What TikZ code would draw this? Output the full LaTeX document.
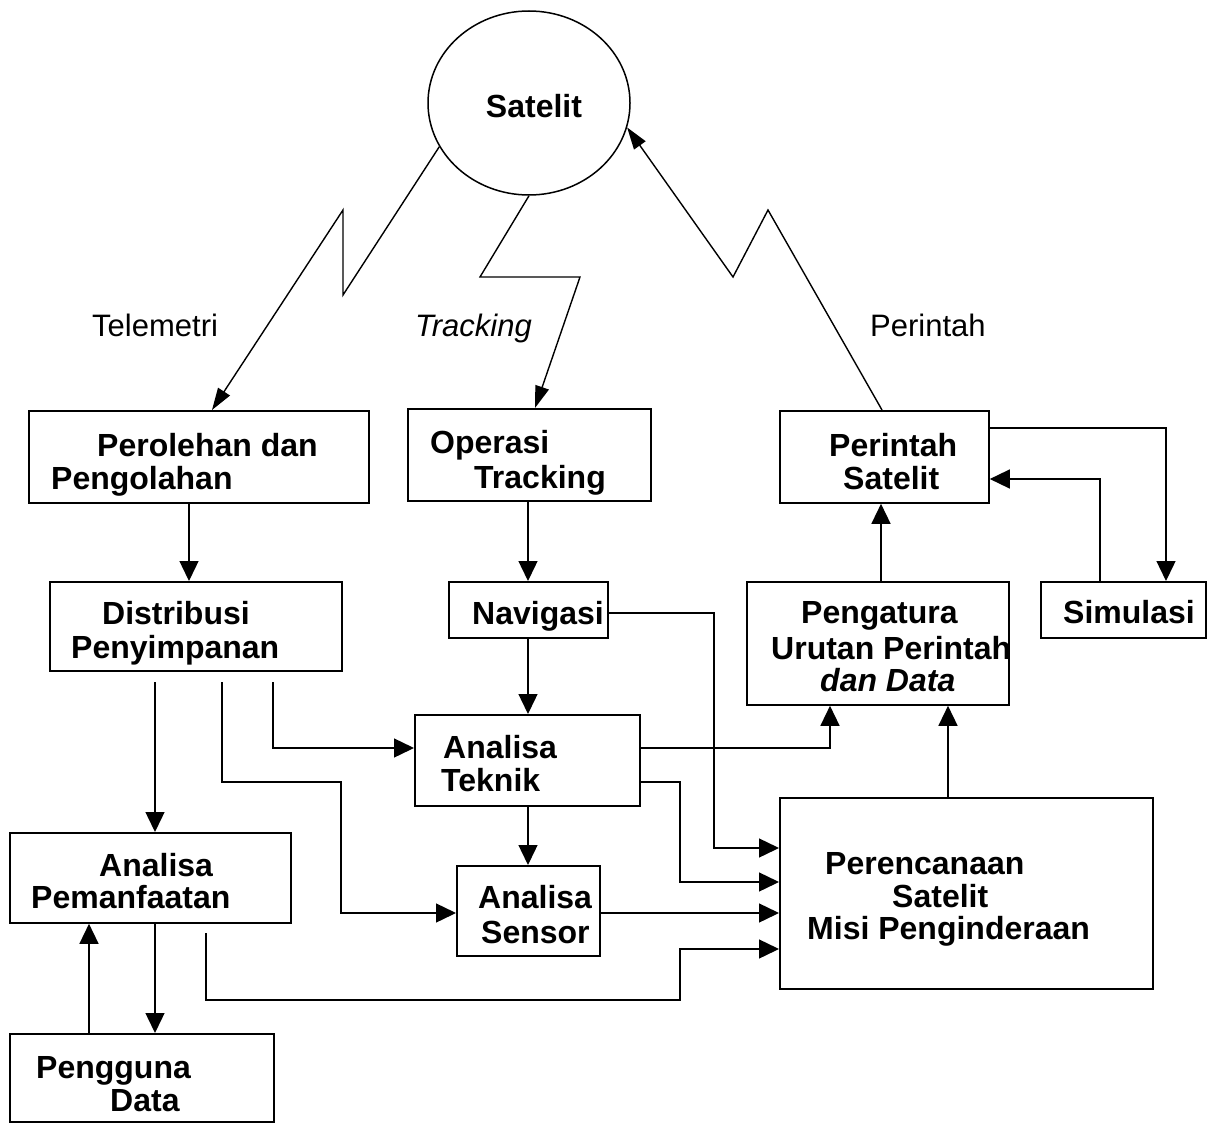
\documentclass[tikz,border=0pt]{standalone}
\usepackage{fontspec}
\setmainfont{Liberation Sans}
\usetikzlibrary{arrows.meta,shapes.geometric}
\begin{document}
\begin{tikzpicture}[x=1pt,y=-1pt,
 box/.style={draw, line width=1.8pt, rectangle, anchor=north west, inner sep=0pt},
 txt/.style={anchor=base west, inner sep=0pt, font=\fontsize{32}{38}\selectfont\bfseries},
 lbl/.style={anchor=base west, inner sep=0pt, font=\fontsize{31}{38}\selectfont},
 arr/.style={line width=1.4pt, -{Triangle[length=20pt,width=19pt]}},
 larr/.style={line width=1.4pt, -{Triangle[length=22pt,width=14pt]}}]
\useasboundingbox (0,0) rectangle (1210,1123);

% satellite
\node[draw, ellipse, line width=1.5pt, minimum width=202pt, minimum height=184pt, inner sep=0pt] (sat) at (529,103) {};
\node[txt, anchor=base] (satt) at (534,118) {Satelit};

% boxes
\node[box, minimum width=340pt, minimum height=92pt] (perol) at (28,410) {};
\node[box, minimum width=243pt, minimum height=92pt] (oper) at (407,408) {};
\node[box, minimum width=209pt, minimum height=92pt] (pers) at (779,410) {};
\node[box, minimum width=165pt, minimum height=56pt] (simu) at (1040,581) {};
\node[box, minimum width=262pt, minimum height=123pt] (peng) at (746,581) {};
\node[box, minimum width=292pt, minimum height=89pt] (distr) at (49,581) {};
\node[box, minimum width=159pt, minimum height=56pt] (navi) at (448,581) {};
\node[box, minimum width=225pt, minimum height=91pt] (tekn) at (414,714) {};
\node[box, minimum width=143pt, minimum height=90pt] (sens) at (456,865) {};
\node[box, minimum width=281pt, minimum height=90pt] (pman) at (9,832) {};
\node[box, minimum width=264pt, minimum height=88pt] (user) at (9,1033) {};
\node[box, minimum width=373pt, minimum height=191pt] (renc) at (779,797) {};

% box texts
\node[txt] (t1a) at (97,456) {Perolehan dan};
\node[txt] (t1b) at (51,489) {Pengolahan};
\node[txt] (t2a) at (430,453) {Operasi};
\node[txt] (t2b) at (474,488) {Tracking};
\node[txt] (t3a) at (829,456) {Perintah};
\node[txt] (t3b) at (843,489) {Satelit};
\node[txt] (t4a) at (102,624) {Distribusi};
\node[txt] (t4b) at (71,658) {Penyimpanan};
\node[txt] (t5) at (472,624) {Navigasi};
\node[txt] (t6) at (1063,623) {Simulasi};
\node[txt] (t7a) at (801,623) {Pengatura};
\node[txt] (t7b) at (771,659) {Urutan Perintah};
\node[txt] (t7c) at (820,691) {\itshape dan Data};
\node[txt] (t8a) at (443,758) {Analisa};
\node[txt] (t8b) at (441,791) {Teknik};
\node[txt] (t9a) at (478,908) {Analisa};
\node[txt] (t9b) at (481,943) {Sensor};
\node[txt] (t10a) at (99,876) {Analisa};
\node[txt] (t10b) at (31,908) {Pemanfaatan};
\node[txt] (t11a) at (36,1078) {Pengguna};
\node[txt] (t11b) at (110,1111) {Data};
\node[txt] (t12a) at (825,874) {Perencanaan};
\node[txt] (t12b) at (892,907) {Satelit};
\node[txt] (t12c) at (807,939) {Misi Penginderaan};

% link labels
\node[lbl] (l1) at (92,336) {Telemetri};
\node[lbl] (l2) at (415,336) {\itshape Tracking};
\node[lbl] (l3) at (870,336) {Perintah};

% lightning links
\draw[larr] (sat.206) -- (343,295) -- (343,210) -- (212,0 |- perol.north);
\draw[larr] (sat.south) -- (480,277) -- (580,277) -- (535,0 |- oper.north);
\draw[larr] (882,0 |- pers.north) -- (768,210) -- (733,277) -- (sat.346);

% free starts
\coordinate (n0) at (155,682);
\coordinate (o0) at (222,682);
\coordinate (p0) at (273,682);
\coordinate (m0) at (206,933);

% connectors
\draw[arr] (189,0 |- perol.south) -- (189,0 |- distr.north);
\draw[arr] (528,0 |- oper.south) -- (528,0 |- navi.north);
\draw[arr] (528,0 |- navi.south) -- (528,0 |- tekn.north);
\draw[arr] (528,0 |- tekn.south) -- (528,0 |- sens.north);
\draw[arr] (881,0 |- peng.north) -- (881,0 |- pers.south);
\draw[arr] (948,0 |- renc.north) -- (948,0 |- peng.south);
\draw[arr] (pers.east |- 0,428) -| (1166,0 |- simu.north);
\draw[arr] (1100,0 |- simu.north) |- (pers.east |- 0,479);
\draw[arr] (navi.east |- 0,613) -| (714,848) -- (renc.west |- 0,848);
\draw[arr] (tekn.east |- 0,748) -| (830,0 |- peng.south);
\draw[arr] (tekn.east |- 0,782) -| (680,882) -- (renc.west |- 0,882);
\draw[arr] (sens.east |- 0,913) -- (renc.west |- 0,913);
\draw[arr] (m0) |- (680,1000) |- (renc.west |- 0,949);
\draw[arr] (n0) -- (155,0 |- pman.north);
\draw[arr] (o0) |- (341,782) |- (sens.west |- 0,913);
\draw[arr] (p0) |- (tekn.west |- 0,748);
\draw[arr] (155,0 |- pman.south) -- (155,0 |- user.north);
\draw[arr] (89,0 |- user.north) -- (89,0 |- pman.south);
\end{tikzpicture}
\end{document}
